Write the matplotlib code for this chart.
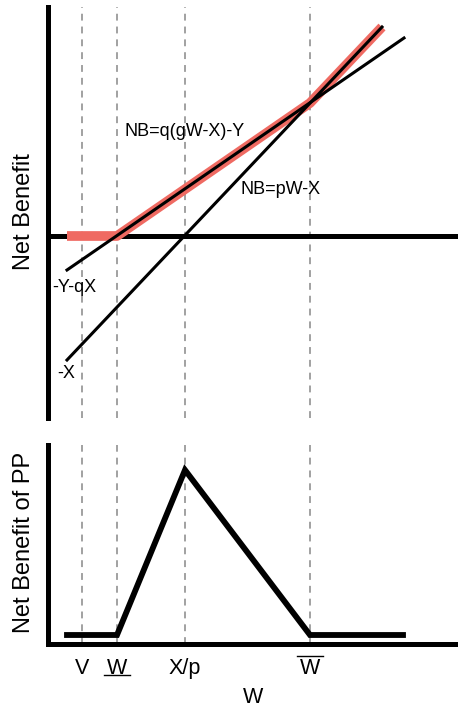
import matplotlib
matplotlib.use("Agg")
import matplotlib.pyplot as plt
from matplotlib.lines import Line2D
from matplotlib.transforms import blended_transform_factory

plt.rcParams['font.family'] = ['Liberation Sans', 'DejaVu Sans']

# ---- data (schematic units) ----
tick_pos = [3.4, 6.9, 13.7, 26.2]          # V, W_low, X/p, W_high
tick_labels = ['V', 'W', 'X/p', 'W']

# top panel lines
p_line_x = [1.9, 33.4]
p_line_y = [-12.4, 20.9]                   # NB = pW - X
q_line_x = [1.9, 35.6]
q_line_y = [-3.4, 19.8]                    # NB = q(gW-X)-Y
env_x = [1.9, 6.9, 26.2, 33.4]
env_y = [0.0, 0.0, 13.3, 20.9]             # upper envelope (red)

# bottom panel
pp_x = [1.9, 6.9, 13.7, 26.2, 35.5]
pp_y = [0.9, 0.9, 17.4, 0.9, 0.9]

W, H = 458, 711
fig = plt.figure(figsize=(W / 100, H / 100), dpi=100)

def axrect(l, t, r, b):
    return [l / W, 1 - b / H, (r - l) / W, (b - t) / H]

ax1 = fig.add_axes(axrect(48, 7, 458, 418))
ax2 = fig.add_axes(axrect(48, 445, 458, 644))

for ax in (ax1, ax2):
    ax.set_xlim(0, 41)
    for s in ('top', 'right'):
        ax.spines[s].set_visible(False)
    ax.spines['left'].set_linewidth(3.6)
    ax.set_yticks([])
    for xv in tick_pos:
        ax.axvline(xv, color='#9a9a9a', lw=1.3, linestyle=(0, (3.8, 3.3)), zorder=1)

ax1.set_ylim(-18.2, 22.9)
ax1.spines['bottom'].set_visible(False)
ax1.set_xticks([])
ax1.axhline(0, color='black', lw=3.6, zorder=3)
ax1.plot(env_x, env_y, color='#EF6A62', lw=7, solid_capstyle='butt', zorder=4)
ax1.plot(q_line_x, q_line_y, color='black', lw=2.2, zorder=5)
ax1.plot(p_line_x, p_line_y, color='black', lw=2.2, zorder=5)

fs_ann = 13
ax1.text(7.7, 10.4, 'NB=q(gW-X)-Y', fontsize=fs_ann, va='center', ha='left')
ax1.text(19.2, 4.6, 'NB=pW-X', fontsize=fs_ann, va='center', ha='left')
ax1.text(0.4, -5.2, '-Y-qX', fontsize=fs_ann, va='center', ha='left')
ax1.text(0.9, -13.7, '-X', fontsize=fs_ann, va='center', ha='left')

ax2.set_ylim(0, 19.9)
ax2.spines['bottom'].set_linewidth(3.6)
ax2.plot(pp_x, pp_y, color='black', lw=4.2, solid_joinstyle='miter', zorder=4)
ax2.set_xticks(tick_pos)
ax2.set_xticklabels(tick_labels, fontsize=15.5)
ax2.tick_params(axis='x', length=0, pad=10)
ax2.set_xlabel('W', fontsize=15.5, labelpad=6)

# underline (W low) and overline (W high) on tick labels
tr = blended_transform_factory(ax2.transData, fig.transFigure)
fig.add_artist(Line2D([tick_pos[1] - 1.3, tick_pos[1] + 1.3], [1 - 675 / H] * 2,
                      color='black', lw=1.0, transform=tr))
fig.add_artist(Line2D([tick_pos[3] - 1.3, tick_pos[3] + 1.3], [1 - 656 / H] * 2,
                      color='black', lw=1.0, transform=tr))

fig.text(24 / W, 1 - 212 / H, 'Net Benefit', rotation=90, fontsize=17, ha='center', va='center')
fig.text(24 / W, 1 - 542 / H, 'Net Benefit of PP', rotation=90, fontsize=17, ha='center', va='center')

fig.savefig('out.png', dpi=100)
